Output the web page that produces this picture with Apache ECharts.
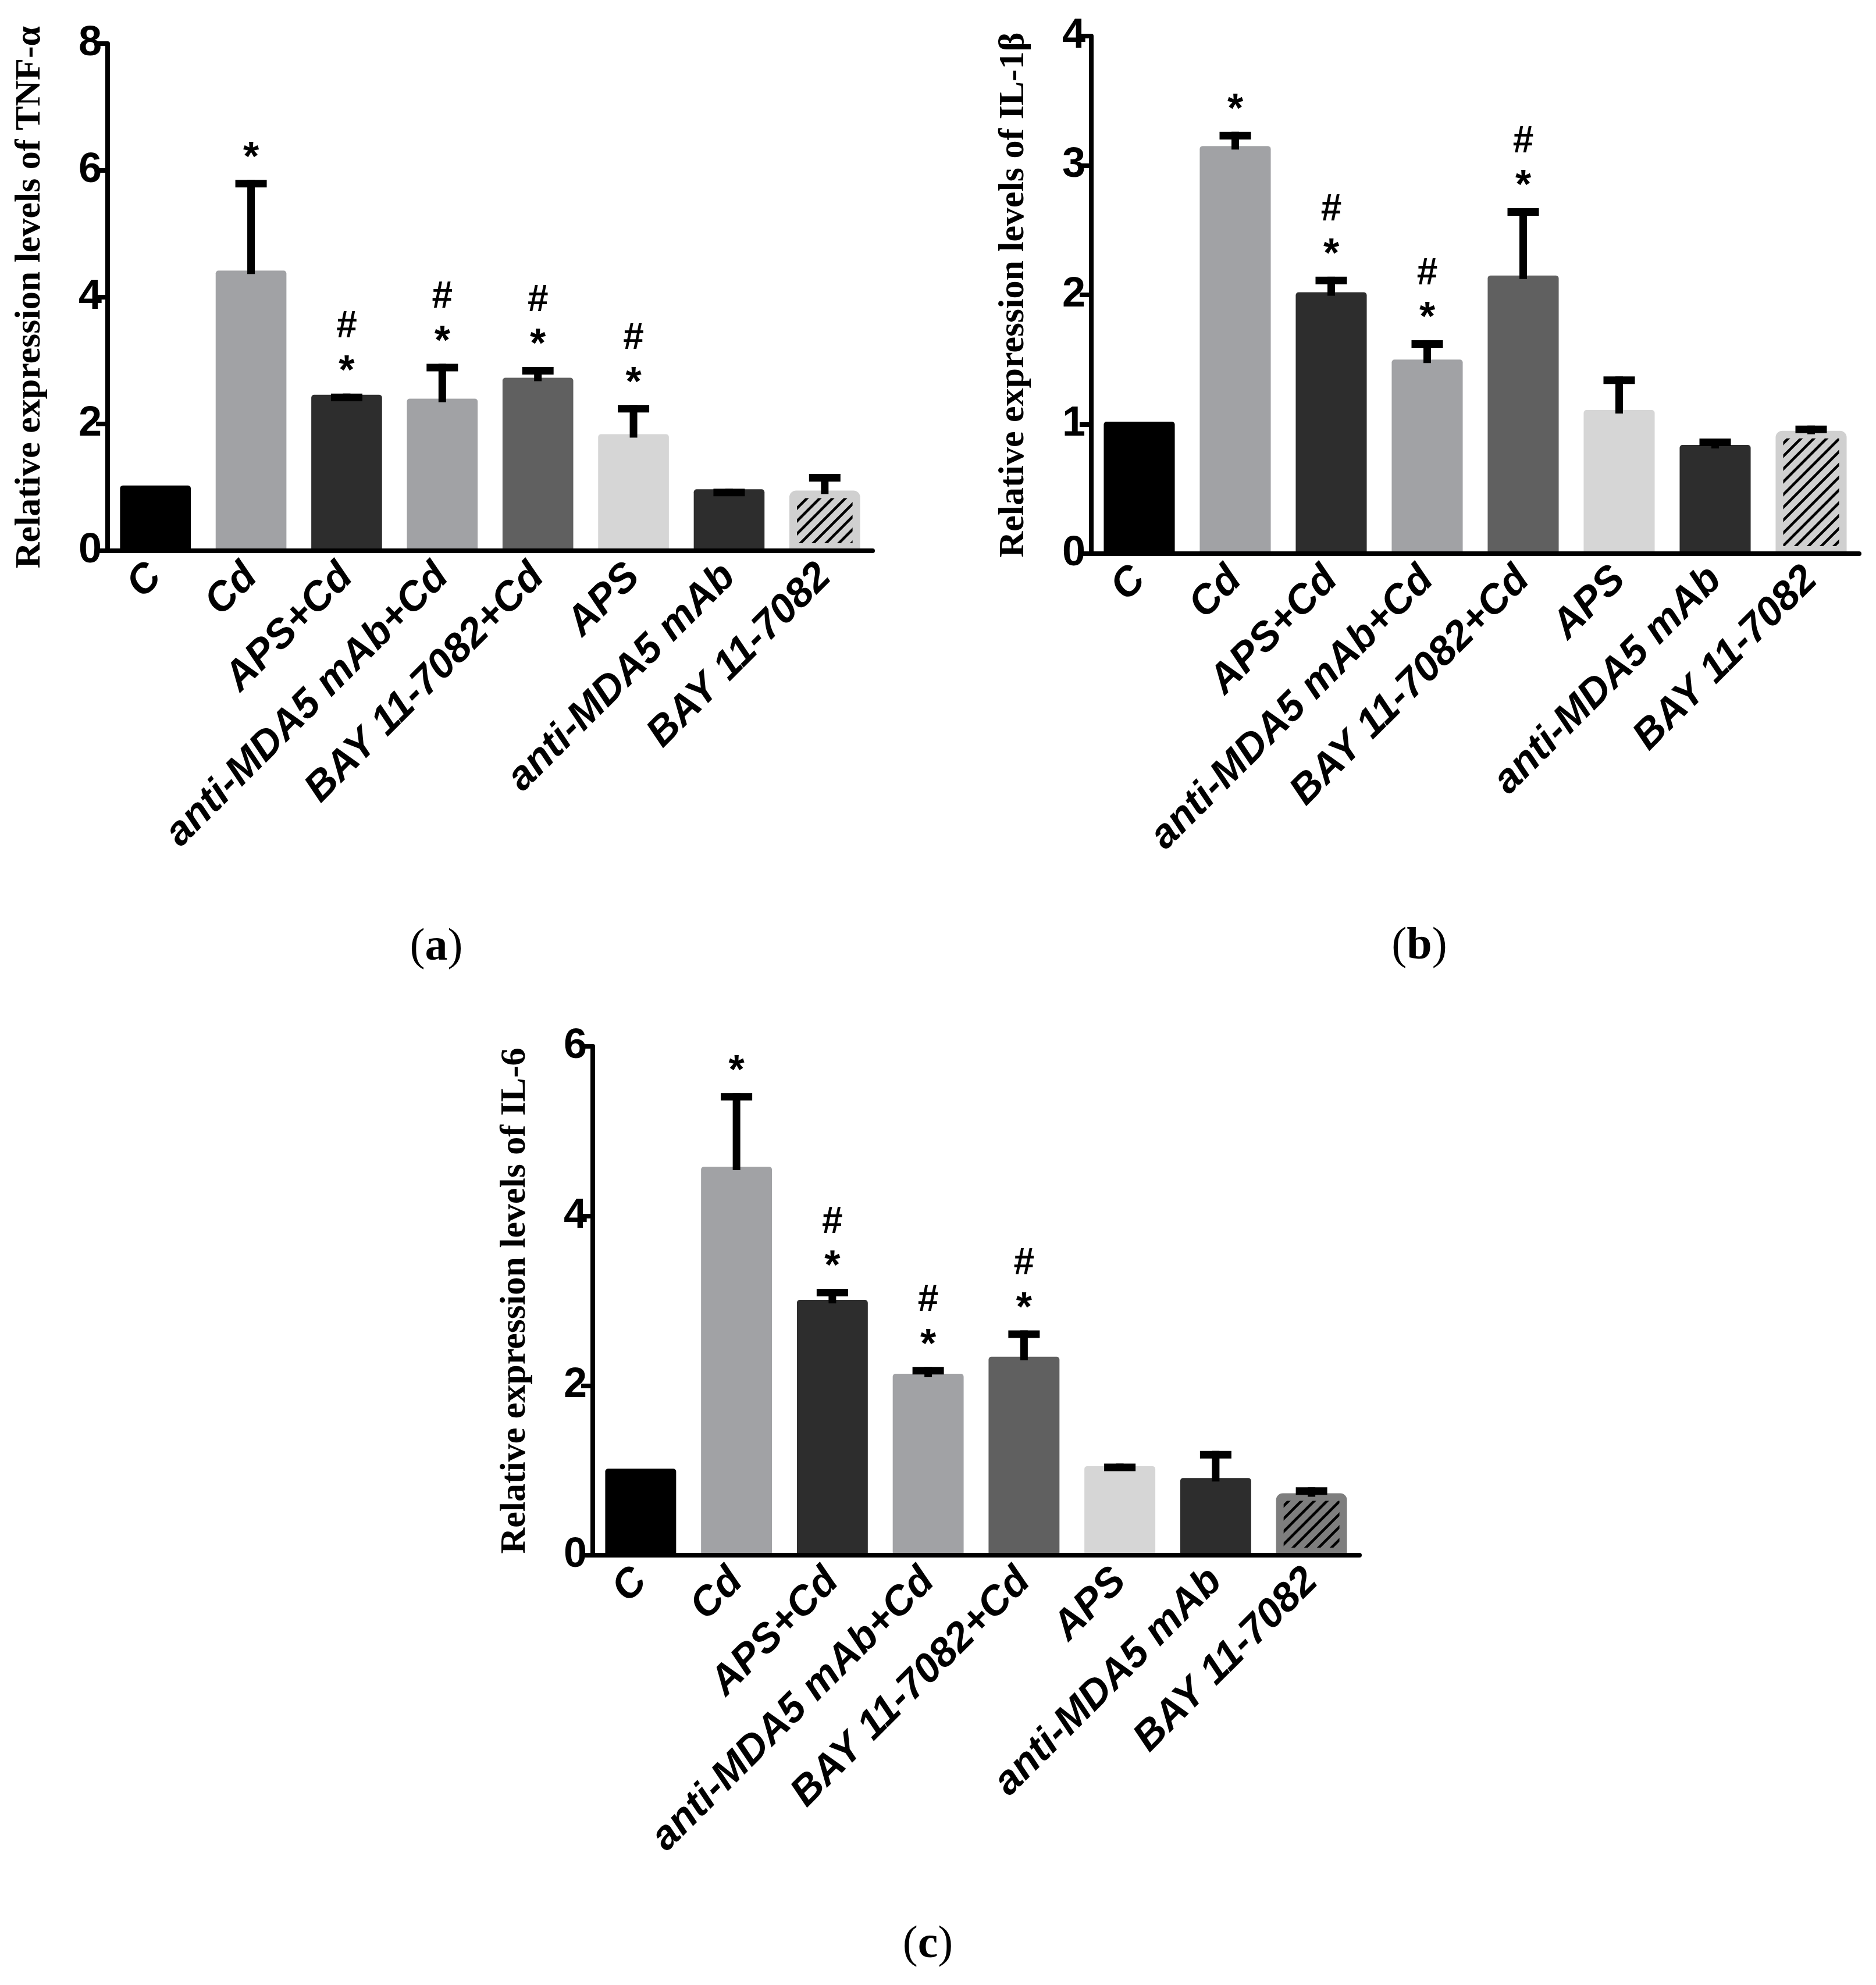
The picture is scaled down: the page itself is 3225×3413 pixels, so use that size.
<!DOCTYPE html>
<html>
<head>
<meta charset="utf-8">
<script src="https://cdn.jsdelivr.net/npm/echarts@6/dist/echarts.min.js"></script>
<style>
  html, body { margin: 0; padding: 0; background: #fff; }
  #chart { width: 3225px; height: 3413px; }
</style>
</head>
<body>
<div id="chart"></div>
<script>
// groups, same order in all three panels
const categories = ['C', 'Cd', 'APS+Cd', 'anti-MDA5 mAb+Cd', 'BAY 11-7082+Cd', 'APS', 'anti-MDA5 mAb', 'BAY 11-7082']

// (a) TNF-α
const tnfMean = [1.03, 4.42, 2.46, 2.40, 2.73, 1.84, 0.97, 0.95]
const tnfSd = [0, 1.43, 0.02, 0.55, 0.17, 0.46, 0.01, 0.26]
const tnfMarks = ['', '*', '#*', '#*', '#*', '#*', '', '']

// (b) IL-1β
const il1bMean = [1.02, 3.15, 2.02, 1.50, 2.15, 1.11, 0.84, 0.95]
const il1bSd = [0, 0.11, 0.12, 0.15, 0.52, 0.26, 0.05, 0.04]
const il1bMarks = ['', '*', '#*', '#*', '#*', '', '', '']

// (c) IL-6
const il6Mean = [1.02, 4.58, 3.01, 2.14, 2.34, 1.05, 0.91, 0.73]
const il6Sd = [0, 0.87, 0.13, 0.08, 0.31, 0.03, 0.32, 0.07]
const il6Marks = ['', '*', '#*', '#*', '#*', '', '', '']

const barColors = ['#000000', '#a1a2a5', '#2d2d2d', '#a1a2a5', '#606060', '#d6d6d6', '#2d2d2d', null]

const panels = [
  { mean: tnfMean, sd: tnfSd, marks: tnfMarks, max: 8, step: 2, hatchBg: '#d0d0d0',
    title: 'Relative expression levels of TNF-α', caption: 'a',
    grid: { left: 185, top: 75, width: 1315, height: 872 }, capPos: [750, 1630] },
  { mean: il1bMean, sd: il1bSd, marks: il1bMarks, max: 4, step: 1, hatchBg: '#d0d0d0',
    title: 'Relative expression levels of IL-1β', caption: 'b',
    grid: { left: 1876, top: 62, width: 1320, height: 890 }, capPos: [2440, 1628] },
  { mean: il6Mean, sd: il6Sd, marks: il6Marks, max: 6, step: 2, hatchBg: '#7e7e7e',
    title: 'Relative expression levels of IL-6', caption: 'c',
    grid: { left: 1019, top: 1799, width: 1318, height: 875 }, capPos: [1595, 3345] }
]

function makeHatch (bg) {
  const c = document.createElement('canvas')
  c.width = 22
  c.height = 22
  const ctx = c.getContext('2d')
  ctx.fillStyle = bg
  ctx.fillRect(0, 0, 22, 22)
  ctx.strokeStyle = '#000'
  ctx.lineWidth = 4.5
  ctx.beginPath()
  for (const off of [-22, 0, 22]) {
    ctx.moveTo(off - 2, 24)
    ctx.lineTo(off + 24, -2)
  }
  ctx.stroke()
  return c
}

function errorBarRenderer (marks) {
  return function (params, api) {
    const k = api.value(0)
    const mean = api.value(1)
    const sd = api.value(2)
    const top = api.coord([k, mean + sd])
    const base = api.coord([k, mean])
    const children = []
    if (sd > 0) {
      children.push({
        type: 'rect',
        shape: { x: top[0] - 6.5, y: top[1], width: 13, height: base[1] - top[1] + 6 },
        style: { fill: '#000' }
      })
      children.push({
        type: 'rect',
        shape: { x: top[0] - 27, y: top[1], width: 54, height: 13 },
        style: { fill: '#000' }
      })
    }
    const m = marks[k]
    if (m.indexOf('*') >= 0) {
      children.push({
        type: 'text',
        x: top[0],
        y: top[1] - 36,
        style: { text: '*', align: 'center', verticalAlign: 'middle', fill: '#000',
          font: 'bold 70px "Liberation Sans", Arial, sans-serif' }
      })
    }
    if (m.indexOf('#') >= 0) {
      children.push({
        type: 'text',
        x: top[0],
        y: top[1] - 114,
        style: { text: '#', align: 'center', verticalAlign: 'middle', fill: '#000',
          font: 'bold 64px "Liberation Sans", Arial, sans-serif' }
      })
    }
    return { type: 'group', children }
  }
}

const grids = []
const xAxes = []
const yAxes = []
const series = []
const graphics = []

panels.forEach((p, i) => {
  grids.push(p.grid)
  xAxes.push({
    type: 'category',
    gridIndex: i,
    data: categories,
    z: 5,
    axisLine: { lineStyle: { color: '#000', width: 8 } },
    axisTick: { alignWithLabel: true, length: 20, lineStyle: { color: '#000', width: 8 } },
    axisLabel: {
      interval: 0,
      rotate: 45,
      margin: 34,
      color: '#000',
      fontFamily: '"Liberation Sans", Arial, sans-serif',
      fontWeight: 'bold',
      fontStyle: 'italic',
      fontSize: 70
    }
  })
  yAxes.push({
    type: 'value',
    gridIndex: i,
    min: 0,
    max: p.max,
    interval: p.step,
    z: 5,
    splitLine: { show: false },
    axisLine: { show: true, lineStyle: { color: '#000', width: 8 } },
    axisTick: { show: true, length: 20, lineStyle: { color: '#000', width: 8 } },
    axisLabel: {
      margin: 10,
      color: '#000',
      fontFamily: '"Liberation Sans", Arial, sans-serif',
      fontWeight: 'bold',
      fontSize: 72
    },
    name: p.title,
    nameLocation: 'middle',
    nameGap: 102,
    nameTextStyle: {
      color: '#000',
      fontFamily: '"Liberation Serif", "Times New Roman", serif',
      fontWeight: 'bold',
      fontSize: 62
    }
  })
  const hatch = makeHatch(p.hatchBg)
  series.push({
    type: 'bar',
    xAxisIndex: i,
    yAxisIndex: i,
    barWidth: '74%',
    data: p.mean.map((v, k) => {
      if (barColors[k] === null) {
        return {
          value: v,
          itemStyle: { color: { image: hatch, repeat: 'repeat' }, borderColor: p.hatchBg, borderWidth: 13, borderRadius: [5, 5, 0, 0] }
        }
      }
      return { value: v, itemStyle: { color: barColors[k], borderRadius: [5, 5, 0, 0] } }
    })
  })
  series.push({
    type: 'custom',
    xAxisIndex: i,
    yAxisIndex: i,
    z: 4,
    renderItem: errorBarRenderer(p.marks),
    data: p.mean.map((v, k) => [k, v, p.sd[k]])
  })
  graphics.push({
    type: 'text',
    x: p.capPos[0],
    y: p.capPos[1],
    style: {
      text: '{p|(}{b|' + p.caption + '}{p|)}',
      align: 'center',
      verticalAlign: 'middle',
      rich: {
        p: { fontFamily: '"Liberation Serif", serif', fontSize: 78, fill: '#000' },
        b: { fontFamily: '"Liberation Serif", serif', fontSize: 78, fontWeight: 'bold', fill: '#000' }
      }
    }
  })
})

const chart = echarts.init(document.getElementById('chart'))
chart.setOption({
  backgroundColor: '#fff',
  animation: false,
  grid: grids,
  xAxis: xAxes,
  yAxis: yAxes,
  series,
  graphic: graphics
})
</script>
</body>
</html>
